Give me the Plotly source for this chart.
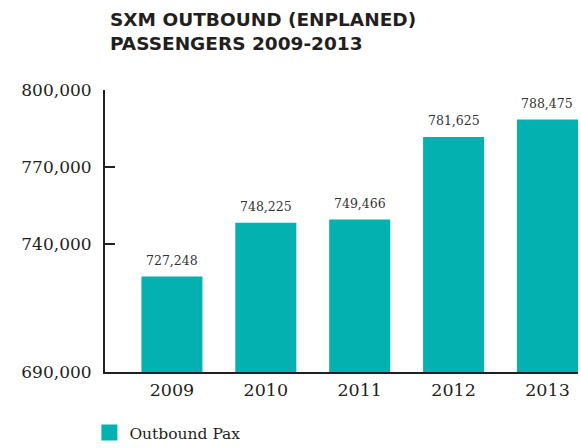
import plotly.graph_objects as go

# Outbound (enplaned) passengers at SXM by year
years = [2009, 2010, 2011, 2012, 2013]
outbound_pax = [727248, 748225, 749466, 781625, 788475]
y_ticks = [690000, 740000, 770000, 800000]
y_tick_labels = ["690,000", "740,000", "770,000", "800,000"]

teal = "#02b1b0"
ink = "#231f20"
serif = "DejaVu Serif"

fig = go.Figure()

fig.add_trace(go.Bar(
    x=years,
    y=outbound_pax,
    width=0.65,
    marker=dict(color=teal, line=dict(width=0)),
    showlegend=False,
    hovertemplate="%{x}: %{y:,}<extra></extra>",
))

# legend entry with a larger square swatch
fig.add_trace(go.Scatter(
    x=[None], y=[None],
    mode="markers",
    marker=dict(symbol="square", size=19, color=teal),
    name="Outbound Pax",
    showlegend=True,
))

# value labels above each bar
for yr, v in zip(years, outbound_pax):
    fig.add_annotation(
        x=yr, y=v, text=f"{v:,}",
        showarrow=False, yanchor="bottom", yshift=7,
        font=dict(family=serif, size=12.5, color="#333333"),
    )

# two-line heading
fig.add_annotation(
    xref="paper", yref="paper",
    x=3 / 473, y=1 + (90 - 7) / 282,
    xanchor="left", yanchor="top", align="left",
    text="SXM OUTBOUND (ENPLANED)<br>PASSENGERS 2009-2013",
    showarrow=False,
    font=dict(family="DejaVu Sans", size=18.5, color=ink, weight="bold"),
)

fig.update_layout(
    width=581,
    height=448,
    margin=dict(l=105, r=3, t=90, b=76, autoexpand=False),
    paper_bgcolor="white",
    plot_bgcolor="white",
    xaxis=dict(
        range=[2008.287, 2013.325],
        tickvals=years,
        ticktext=[str(y) for y in years],
        showgrid=False,
        zeroline=False,
        showline=True,
        linecolor=ink,
        linewidth=2,
        ticks="",
        tickfont=dict(family=serif, size=17.5, color=ink),
        ticklabelstandoff=1,
        automargin=False,
    ),
    yaxis=dict(
        range=[690000, 800000],
        tickvals=y_ticks,
        ticktext=y_tick_labels,
        showgrid=False,
        zeroline=False,
        showline=True,
        linecolor=ink,
        linewidth=2,
        ticks="inside",
        ticklen=10,
        tickwidth=2,
        tickcolor=ink,
        tickfont=dict(family=serif, size=17, color=ink),
        ticklabelstandoff=8,
        automargin=False,
    ),
    legend=dict(
        orientation="h",
        yref="container",
        x=-0.033, xanchor="left",
        y=1 - 416 / 448, yanchor="top",
        font=dict(family=serif, size=15.5, color=ink),
        itemsizing="trace",
        bgcolor="rgba(0,0,0,0)",
    ),
)

fig.write_html("out.html")
